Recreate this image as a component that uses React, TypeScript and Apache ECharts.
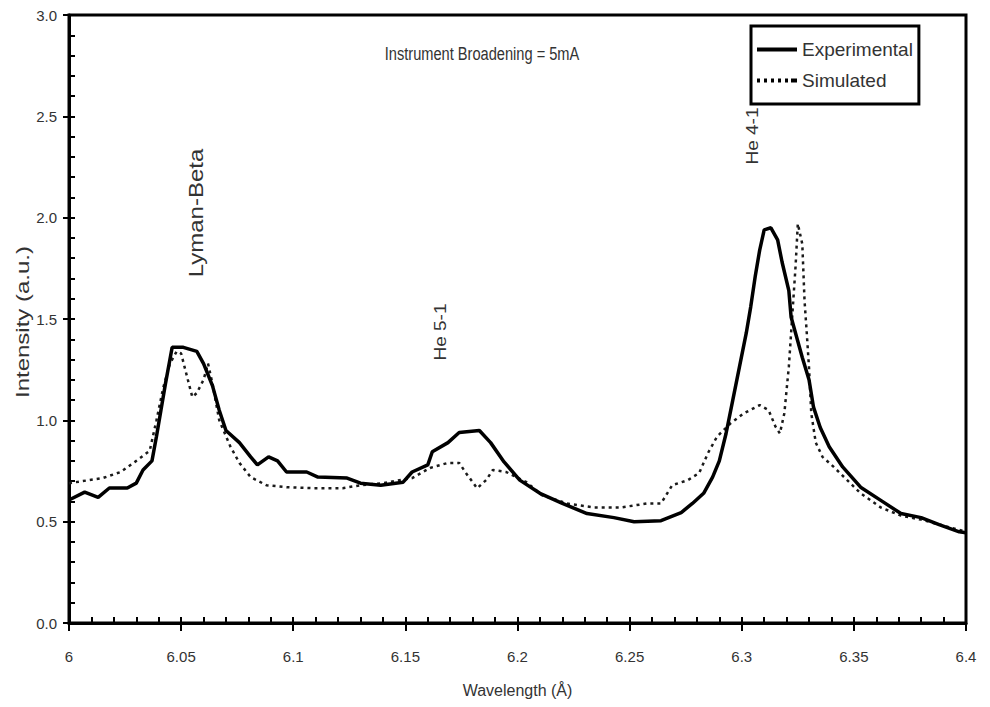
import React, { useEffect, useRef } from "react";
import * as echarts from "echarts";

// Experimental spectrum (thick solid line)
const expX = [
  6.0, 6.007, 6.013, 6.018, 6.026, 6.03, 6.033, 6.037, 6.039, 6.041, 6.043, 6.045, 6.046, 6.051,
  6.057, 6.06, 6.064, 6.067, 6.07, 6.076, 6.081, 6.084, 6.089, 6.093, 6.097, 6.106, 6.111, 6.124,
  6.13, 6.139, 6.149, 6.153, 6.16, 6.162, 6.169, 6.174, 6.183, 6.188, 6.194, 6.201, 6.21, 6.22,
  6.231, 6.243, 6.252, 6.264, 6.273, 6.278, 6.283, 6.287, 6.29, 6.293, 6.296, 6.299, 6.302, 6.304,
  6.306, 6.308, 6.31, 6.313, 6.316, 6.318, 6.321, 6.322, 6.324, 6.327, 6.33, 6.332, 6.335, 6.339,
  6.345, 6.353, 6.362, 6.371, 6.38, 6.388, 6.397, 6.4,
];
const expY = [
  0.607, 0.646, 0.62, 0.666, 0.666, 0.69, 0.755, 0.8, 0.92, 1.05, 1.18, 1.3, 1.36, 1.36,
  1.34, 1.28, 1.17, 1.05, 0.95, 0.89, 0.82, 0.78, 0.82, 0.8, 0.745, 0.745, 0.72, 0.715,
  0.69, 0.68, 0.695, 0.745, 0.78, 0.845, 0.89, 0.94, 0.95, 0.89, 0.795, 0.705, 0.64, 0.59,
  0.54, 0.52, 0.5, 0.505, 0.545, 0.59, 0.64, 0.72, 0.8, 0.935, 1.1, 1.265, 1.43, 1.56,
  1.71, 1.84, 1.94, 1.95, 1.89, 1.78, 1.64, 1.51, 1.43, 1.31, 1.2, 1.065, 0.965, 0.87,
  0.77, 0.67, 0.605, 0.54, 0.52, 0.485, 0.45, 0.445,
];

// Simulated spectrum (dotted line)
const simX = [
  6.0, 6.015, 6.023, 6.03, 6.036, 6.039, 6.042, 6.045, 6.048, 6.05, 6.053, 6.055, 6.057, 6.06,
  6.062, 6.064, 6.067, 6.072, 6.076, 6.081, 6.088, 6.097, 6.109, 6.122, 6.13, 6.14, 6.153, 6.161,
  6.169, 6.174, 6.177, 6.182, 6.186, 6.189, 6.195, 6.204, 6.211, 6.222, 6.234, 6.246, 6.258, 6.264,
  6.269, 6.276, 6.281, 6.285, 6.289, 6.295, 6.301, 6.308, 6.312, 6.315, 6.317, 6.319, 6.321, 6.322,
  6.324, 6.325, 6.327, 6.328, 6.329, 6.33, 6.331, 6.333, 6.336, 6.341, 6.347, 6.353, 6.362, 6.371,
  6.38, 6.39, 6.4,
];
const simY = [
  0.69, 0.715, 0.745, 0.8, 0.85, 1.0, 1.16, 1.28, 1.34, 1.33, 1.2, 1.115, 1.135, 1.2,
  1.28, 1.18, 1.0, 0.87, 0.79, 0.72, 0.68, 0.67, 0.665, 0.665, 0.68, 0.69, 0.715, 0.765,
  0.79, 0.79, 0.74, 0.665, 0.705, 0.755, 0.745, 0.695, 0.63, 0.59, 0.57, 0.57, 0.59, 0.59,
  0.68, 0.705, 0.74, 0.84, 0.92, 0.985, 1.035, 1.075, 1.05, 0.97, 0.935, 1.035, 1.265, 1.43,
  1.76, 1.97, 1.87, 1.59, 1.43, 1.26, 1.035, 0.89, 0.82, 0.77, 0.705, 0.64, 0.57, 0.53,
  0.51, 0.48, 0.45,
];

const seriesNames = ["Experimental", "Simulated"];
const xRange = [6, 6.4];
const yRange = [0, 3];
const annotations = [
  { text: "Lyman-Beta", x: 196, y: 213, size: 24 },
  { text: "He 5-1", x: 441, y: 332, size: 19 },
  { text: "He 4-1", x: 753, y: 136, size: 19 },
];
const noteText = "Instrument Broadening = 5mA";
const xName = "Wavelength (Å)";
const yName = "Intensity (a.u.)";

const FONT = "'Liberation Sans', Arial, sans-serif";
const TXT = "#333";

const SOLID_ICON = "path://M0,0H40V4H0Z";
const DOT_ICON = "path://M0,0h3v4h-3zM7,0h3v4h-3zM14,0h3v4h-3zM21,0h3v4h-3zM28,0h3v4h-3zM34,0h6v4h-6z";

export default function App() {
  const ref = useRef<HTMLDivElement>(null);
  useEffect(() => {
    if (!ref.current) return;
    const chart = echarts.init(ref.current, null, { renderer: "svg" });
    const pairs = (xs: number[], ys: number[]) => xs.map((x, i) => [x, ys[i]]);
    chart.setOption({
      animation: false,
      backgroundColor: "#fff",
      textStyle: { fontFamily: FONT },
      grid: {
        left: 69,
        right: 24,
        top: 15,
        bottom: 84,
        show: true,
        borderColor: "#000",
        borderWidth: 3,
        backgroundColor: "transparent",
      },
      legend: {
        orient: "vertical",
        left: 751,
        top: 26,
        padding: [14, 6, 14, 6],
        itemGap: 12,
        itemWidth: 40,
        itemHeight: 4,
        borderColor: "#000",
        borderWidth: 3,
        backgroundColor: "#fff",
        textStyle: { fontSize: 19, color: TXT, fontFamily: FONT, lineHeight: 18 },
        data: [
          { name: seriesNames[0], icon: SOLID_ICON },
          { name: seriesNames[1], icon: DOT_ICON },
        ],
      },
      xAxis: [
        {
          type: "value",
          min: xRange[0],
          max: xRange[1],
          interval: 0.05,
          position: "bottom",
          axisLine: { show: true, onZero: false, lineStyle: { color: "#000", width: 3 } },
          axisTick: { show: true, inside: false, length: 8, lineStyle: { color: "#000", width: 2 } },
          axisLabel: {
            color: TXT,
            fontSize: 15,
            fontFamily: FONT,
            margin: 26,
            formatter: (v: number) => String(+v.toFixed(2)),
          },
          splitLine: { show: false },
          name: xName,
          nameLocation: "middle",
          nameGap: 59,
          nameTextStyle: { fontSize: 16, color: TXT, fontFamily: FONT },
        },
        {
          type: "value",
          min: xRange[0],
          max: xRange[1],
          interval: 0.01,
          position: "bottom",
          axisLine: { show: false },
          axisTick: { show: true, inside: true, length: 6, lineStyle: { color: "#000", width: 2 } },
          axisLabel: { show: false },
          splitLine: { show: false },
        },
      ],
      yAxis: [
        {
          type: "value",
          min: yRange[0],
          max: yRange[1],
          interval: 0.5,
          position: "left",
          axisLine: { show: true, onZero: false, lineStyle: { color: "#000", width: 3 } },
          axisTick: { show: true, inside: false, length: 6, lineStyle: { color: "#000", width: 2 } },
          axisLabel: {
            color: TXT,
            fontSize: 15,
            fontFamily: FONT,
            margin: 12,
            formatter: (v: number) => v.toFixed(1),
          },
          splitLine: { show: false },
        },
        {
          type: "value",
          min: yRange[0],
          max: yRange[1],
          interval: 0.1,
          position: "left",
          axisLine: { show: false },
          axisTick: { show: true, inside: true, length: 6, lineStyle: { color: "#000", width: 2 } },
          axisLabel: { show: false },
          splitLine: { show: false },
        },
      ],
      series: [
        {
          name: seriesNames[0],
          type: "line",
          xAxisIndex: 0,
          yAxisIndex: 0,
          data: pairs(expX, expY),
          symbol: "none",
          lineStyle: { color: "#000", width: 3.5 },
          itemStyle: { color: "#000" },
          z: 3,
        },
        {
          name: seriesNames[1],
          type: "line",
          xAxisIndex: 0,
          yAxisIndex: 0,
          data: pairs(simX, simY),
          symbol: "none",
          lineStyle: { color: "#1a1a1a", width: 2.5, type: [3, 4] },
          itemStyle: { color: "#000" },
          z: 2,
        },
      ],
      graphic: [
        {
          type: "text",
          x: 482,
          y: 54,
          scaleX: 0.77,
          style: {
            text: noteText,
            fontSize: 19,
            fill: TXT,
            align: "center",
            verticalAlign: "middle",
            fontFamily: FONT,
          },
        },
        {
          type: "text",
          x: 22,
          y: 322,
          rotation: Math.PI / 2,
          scaleY: 0.8,
          style: {
            text: yName,
            fontSize: 24,
            fill: TXT,
            align: "center",
            verticalAlign: "middle",
            fontFamily: FONT,
          },
        },
        ...annotations.map((a) => ({
          type: "text",
          x: a.x,
          y: a.y,
          rotation: Math.PI / 2,
          scaleY: 0.85,
          style: {
            text: a.text,
            fontSize: a.size,
            fill: TXT,
            align: "center",
            verticalAlign: "middle",
            fontFamily: FONT,
          },
        })),
      ],
    });
    return () => chart.dispose();
  }, []);
  return (
    <div
      ref={ref}
      style={{ position: "absolute", left: 0, top: 0, width: 990, height: 707, background: "#fff" }}
    />
  );
}
